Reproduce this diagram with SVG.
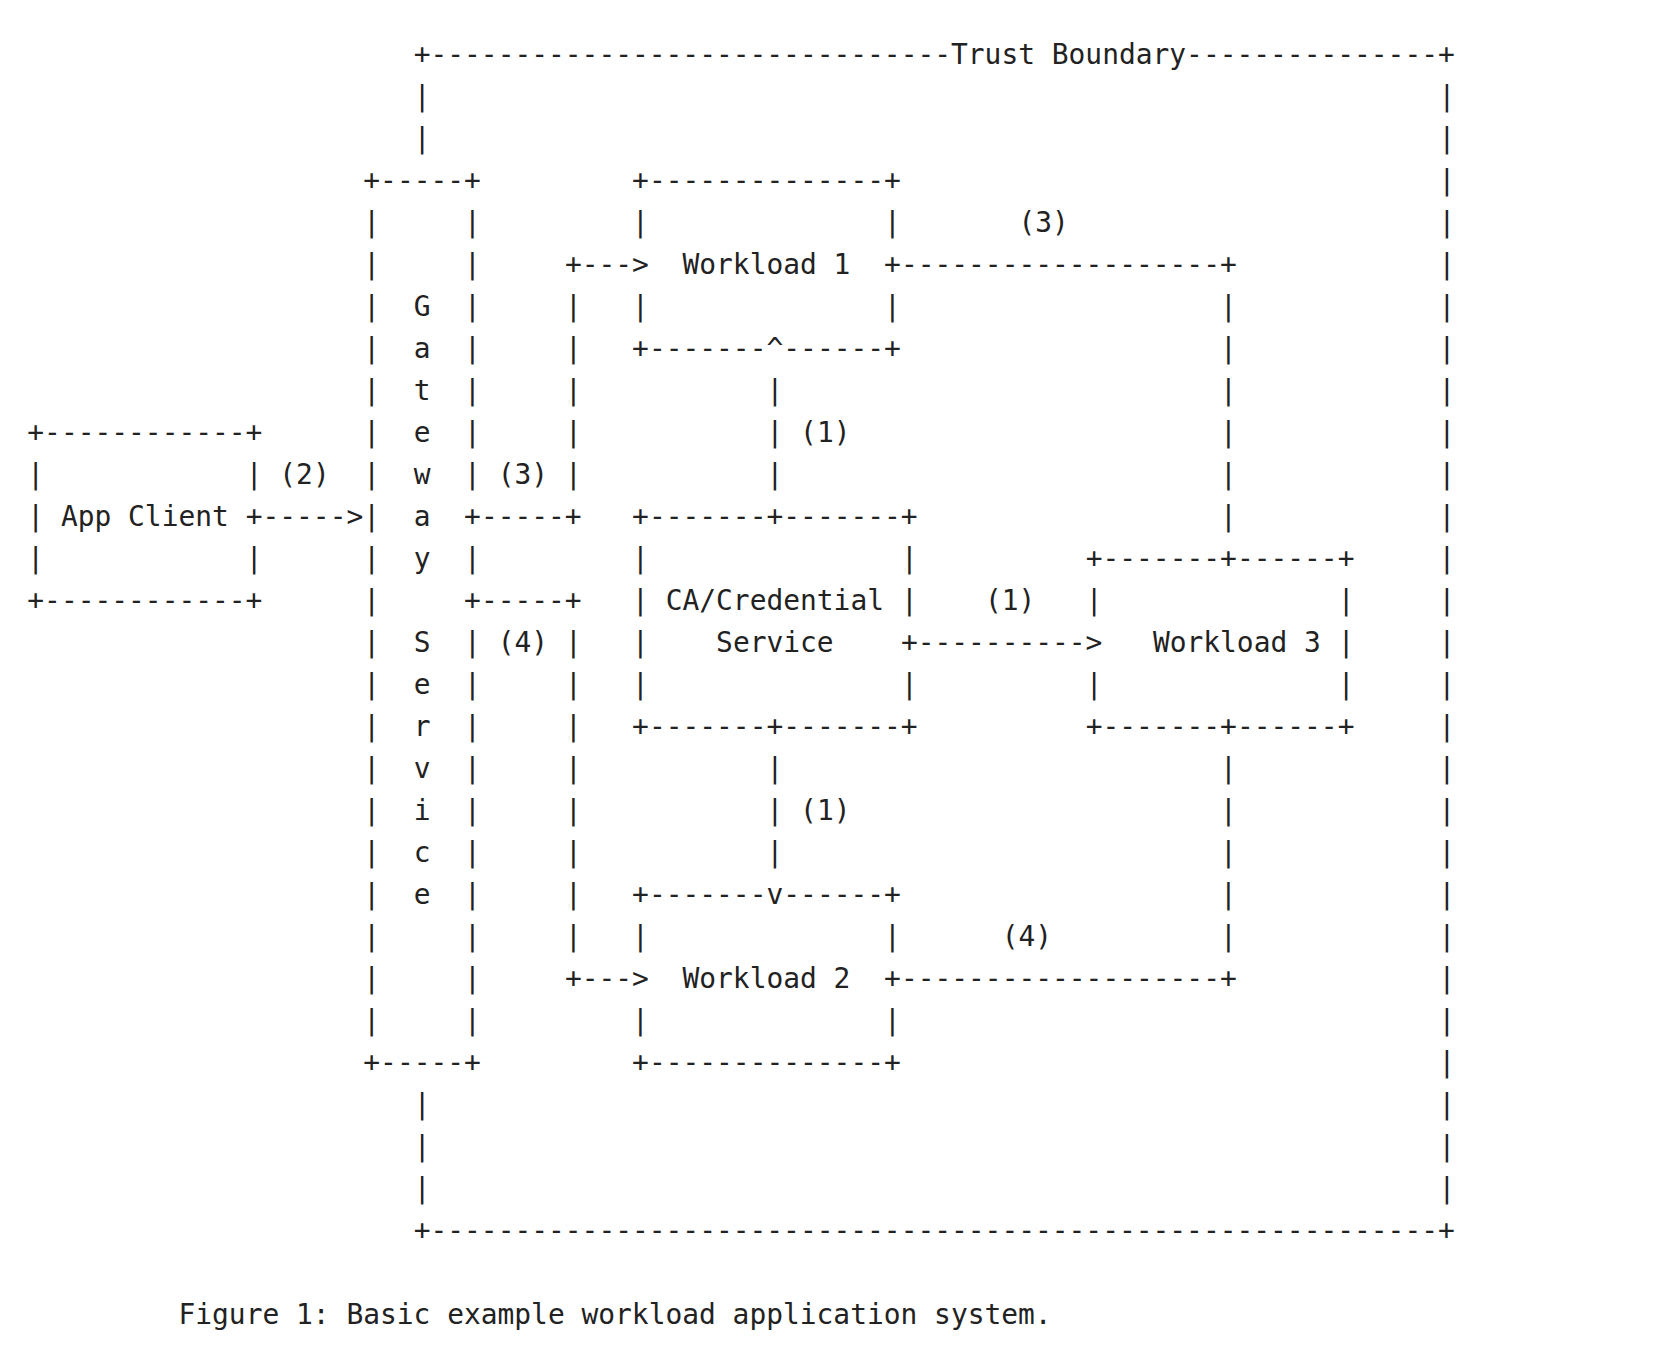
<svg xmlns="http://www.w3.org/2000/svg" width="1664" height="1358" viewBox="0 0 1664 1358" xml:space="preserve">
<style>
text { font-family: "DejaVu Sans Mono", "Liberation Mono", monospace; font-size: 27.9px; fill: #222222; white-space: pre; }
</style>
<rect x="0" y="0" width="1664" height="1358" fill="#ffffff"/>

<g id="trust-boundary">
<text x="413.7" y="64">+-------------------------------Trust Boundary---------------+</text>
<text x="413.7 413.7" y="106 148">||</text>
<text x="413.7 413.7 413.7" y="1114 1156 1198">|||</text>
<text x="413.7" y="1240">+------------------------------------------------------------+</text>
<text x="1438.5 1438.5 1438.5 1438.5 1438.5 1438.5 1438.5 1438.5 1438.5 1438.5 1438.5 1438.5 1438.5 1438.5 1438.5 1438.5 1438.5 1438.5 1438.5 1438.5 1438.5 1438.5 1438.5 1438.5 1438.5 1438.5 1438.5" y="106 148 190 232 274 316 358 400 442 484 526 568 610 652 694 736 778 820 862 904 946 988 1030 1072 1114 1156 1198">|||||||||||||||||||||||||||</text>
</g>

<g id="gateway-service">
<text x="363.3" y="190">+-----+</text>
<text x="363.3" y="1072">+-----+</text>
<text x="363.3 363.3 363.3 363.3 363.3 363.3 363.3 363.3 363.3 363.3 363.3 363.3 363.3 363.3 363.3 363.3 363.3 363.3 363.3 363.3" y="232 274 316 358 400 442 484 526 568 610 652 694 736 778 820 862 904 946 988 1030">||||||||||||||||||||</text>
<text x="464.1 464.1 464.1 464.1 464.1 464.1 464.1" y="232 274 316 358 400 442 484">|||||||</text>
<text x="464.1" y="568">|</text>
<text x="464.1 464.1 464.1 464.1 464.1 464.1 464.1 464.1 464.1 464.1" y="652 694 736 778 820 862 904 946 988 1030">||||||||||</text>
<text x="413.7 413.7 413.7 413.7 413.7 413.7 413.7" y="316 358 400 442 484 526 568">Gateway</text>
<text x="413.7 413.7 413.7 413.7 413.7 413.7 413.7" y="652 694 736 778 820 862 904">Service</text>
</g>

<g id="app-client">
<text x="27.3" y="442">+------------+</text>
<text x="27.3" y="484">|</text>
<text x="245.7" y="484">|</text>
<text x="27.3" y="526">|</text>
<text x="60.9" y="526">App Client</text>
<text x="27.3" y="568">|</text>
<text x="245.7" y="568">|</text>
<text x="27.3" y="610">+------------+</text>
</g>

<g id="workload-1">
<text x="632.1" y="190">+--------------+</text>
<text x="632.1" y="232">|</text>
<text x="884.1" y="232">|</text>
<text x="682.5" y="274">Workload 1</text>
<text x="632.1" y="316">|</text>
<text x="884.1" y="316">|</text>
<text x="632.1" y="358">+-------</text>
<text x="783.3" y="358">------+</text>
</g>

<g id="ca-credential-service">
<text x="632.1" y="526">+-------</text>
<text x="783.3" y="526">-------+</text>
<text x="632.1" y="568">|</text>
<text x="900.9" y="568">|</text>
<text x="632.1" y="610">|</text>
<text x="665.7" y="610">CA/Credential</text>
<text x="900.9" y="610">|</text>
<text x="632.1" y="652">|</text>
<text x="716.1" y="652">Service</text>
<text x="632.1" y="694">|</text>
<text x="900.9" y="694">|</text>
<text x="632.1" y="736">+-------</text>
<text x="783.3" y="736">-------+</text>
</g>

<g id="workload-2">
<text x="632.1" y="904">+-------</text>
<text x="783.3" y="904">------+</text>
<text x="632.1" y="946">|</text>
<text x="884.1" y="946">|</text>
<text x="682.5" y="988">Workload 2</text>
<text x="632.1" y="1030">|</text>
<text x="884.1" y="1030">|</text>
<text x="632.1" y="1072">+--------------+</text>
</g>

<g id="workload-3">
<text x="1085.7" y="568">+-------</text>
<text x="1236.9" y="568">------+</text>
<text x="1085.7" y="610">|</text>
<text x="1337.7" y="610">|</text>
<text x="1152.9" y="652">Workload 3</text>
<text x="1337.7" y="652">|</text>
<text x="1085.7" y="694">|</text>
<text x="1337.7" y="694">|</text>
<text x="1085.7" y="736">+-------</text>
<text x="1236.9" y="736">------+</text>
</g>

<g id="connectors">
<!-- (2) App Client to Gateway -->
<text x="245.7" y="526">+-----&gt;</text>
<text x="279.3" y="484">(2)</text>
<!-- (3) Gateway to Workload 1 -->
<text x="464.1" y="526">+-----+</text>
<text x="564.9 564.9 564.9 564.9 564.9" y="316 358 400 442 484">|||||</text>
<text x="564.9" y="274">+---&gt;</text>
<text x="497.7" y="484">(3)</text>
<!-- (4) Gateway to Workload 2 -->
<text x="464.1" y="610">+-----+</text>
<text x="564.9 564.9 564.9 564.9 564.9 564.9 564.9 564.9" y="652 694 736 778 820 862 904 946">||||||||</text>
<text x="564.9" y="988">+---&gt;</text>
<text x="497.7" y="652">(4)</text>
<!-- (1) CA to Workload 1 -->
<text x="766.5" y="526">+</text>
<text x="766.5 766.5 766.5" y="400 442 484">|||</text>
<text x="766.5" y="358">^</text>
<text x="800.1" y="442">(1)</text>
<!-- (1) CA to Workload 2 -->
<text x="766.5" y="736">+</text>
<text x="766.5 766.5 766.5" y="778 820 862">|||</text>
<text x="766.5" y="904">v</text>
<text x="800.1" y="820">(1)</text>
<!-- (1) CA to Workload 3 -->
<text x="900.9" y="652">+----------&gt;</text>
<text x="984.9" y="610">(1)</text>
<!-- (3) Workload 1 to Workload 3 -->
<text x="884.1" y="274">+-------------------+</text>
<text x="1220.1 1220.1 1220.1 1220.1 1220.1 1220.1" y="316 358 400 442 484 526">||||||</text>
<text x="1220.1" y="568">+</text>
<text x="1018.5" y="232">(3)</text>
<!-- (4) Workload 2 to Workload 3 -->
<text x="884.1" y="988">+-------------------+</text>
<text x="1220.1 1220.1 1220.1 1220.1 1220.1" y="778 820 862 904 946">|||||</text>
<text x="1220.1" y="736">+</text>
<text x="1001.7" y="946">(4)</text>
</g>

<g id="caption">
<text x="178.5" y="1324">Figure 1: Basic example workload application system.</text>
</g>
</svg>
